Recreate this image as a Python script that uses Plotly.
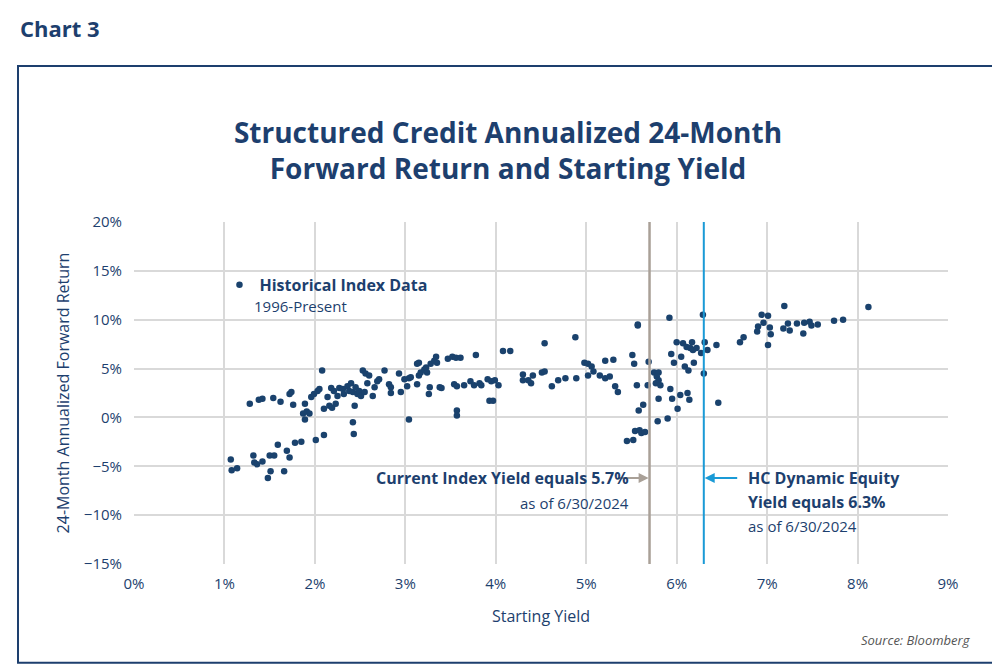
import plotly.graph_objects as go

# starting yield (%) and 24-month annualized forward return (%)
yield_pct = [
    1.07, 1.08, 1.14, 1.28, 1.32, 1.33, 1.36, 1.38, 1.42, 1.42, 1.48, 1.51, 1.50, 1.55, 1.54,
    1.59, 1.62, 1.66, 1.69, 1.72, 1.72, 1.74, 1.76, 1.78, 1.85, 1.89, 1.89, 1.87, 1.91, 1.94,
    1.96, 1.99, 2.01, 2.03, 2.05, 2.10, 2.08, 2.10, 2.14, 2.16, 2.18, 2.19, 2.21, 2.23, 2.25,
    2.27, 2.31, 2.32, 2.36, 2.38, 2.40, 2.42, 2.44, 2.42, 2.43, 2.45, 2.47, 2.49, 2.51, 2.53,
    2.55, 2.56, 2.58, 2.60, 2.64, 2.66, 2.69, 2.71, 2.77, 2.82, 2.84, 2.84, 2.93, 2.95, 2.99,
    3.02, 3.04, 3.04, 3.06, 3.13, 3.13, 3.15, 3.15, 3.17, 3.21, 3.23, 3.24, 3.26, 3.27, 3.28,
    3.32, 3.34, 3.35, 3.38, 3.40, 3.47, 3.52, 3.54, 3.56, 3.57, 3.57, 3.57, 3.61, 3.65, 3.72,
    3.76, 3.78, 3.82, 3.84, 3.91, 3.93, 3.95,
    3.97, 3.99, 4.03, 4.08, 4.16, 4.30, 4.30, 4.36, 4.39, 4.41, 4.51, 4.54, 4.54, 4.62, 4.69,
    4.77, 4.88, 4.89, 4.98, 5.02, 5.02, 5.06, 5.08, 5.15, 5.21, 5.21, 5.26, 5.30, 5.32, 5.35,
    5.51, 5.53, 5.56, 5.57, 5.57, 5.63, 5.58, 5.54, 5.59, 5.61, 5.65, 5.45, 5.52, 5.68, 5.69,
    5.75, 5.80, 5.78, 5.80, 5.77, 5.82, 5.80, 5.79, 5.90, 5.92, 5.94, 5.93, 5.95, 5.97, 6.00,
    6.01, 6.04, 6.05, 6.07, 6.09, 6.12, 6.13, 6.14, 6.11, 6.15, 6.17, 6.18, 6.19, 6.22, 6.27,
    6.29, 6.30, 6.31, 6.34, 6.44, 6.46, 6.70, 6.74, 6.89, 6.90, 6.94, 6.96, 7.01, 7.03, 7.04,
    7.01, 7.19, 7.18, 7.23, 7.25, 7.33, 7.40, 7.41, 7.47, 7.49, 7.56, 7.74, 7.84, 8.12,
]
fwd_return = [
    -4.3, -5.4, -5.2, 1.4, -3.9, -4.6, -4.8, 1.8, 1.9, -4.5, -6.2, -5.5, -3.9, -3.9, 2.0,
    -2.8, 1.6, -5.5, -3.4, -4.1, 2.4, 2.6, 1.3, -2.6, -2.5, 1.4, -0.2, 0.4, 0.6, 0.4,
    2.1, 2.4, -2.3, 2.7, 2.9, -1.8, 4.8, 0.9, 2.1, 1.2, 3.0, 1.0, 2.7, 1.4, 2.2,
    3.0, 2.9, 2.4, 3.2, 2.7, 3.5, 2.6, 1.2, -0.5, -1.7, 3.1, 2.4, 2.7, 2.2, 4.8,
    2.6, 4.5, 3.5, 4.3, 2.2, 3.1, 3.7, 3.9, 4.8, 3.4, 2.5, 3.1, 4.5, 2.6, 3.9,
    3.2, -0.2, 4.0, 4.1, 3.4, 5.5, 5.6, 4.3, 4.6, 4.9, 5.1, 4.6, 2.4, 3.1, 5.5,
    5.8, 6.2, 5.6, 3.1, 3.0, 6.0, 6.2, 3.4, 6.1, 3.2, 0.7, 0.2, 6.1, 3.3, 3.7,
    3.3, 6.4, 3.5, 3.3, 3.9, 1.7, 3.7,
    1.7, 3.8, 3.3, 6.8, 6.8, 4.4, 3.8, 3.8, 3.5, 4.3, 4.6, 4.7, 7.6, 3.2, 3.8,
    4.0, 8.2, 4.0, 5.6, 4.3, 5.5, 5.2, 4.7, 4.3, 5.8, 4.0, 4.2, 5.9, 3.2, 2.6,
    6.4, 5.5, 3.3, 9.5, 9.4, 1.3, 0.7, -1.4, -1.3, -1.6, -1.5, -2.4, -2.3, 3.3, 5.7,
    4.6, 4.6, 4.2, 3.8, 3.5, 3.3, 1.9, -0.4, -0.1, 10.2, 6.5, 2.9, 1.9, 5.6, 7.7,
    0.9, 2.3, 6.2, 7.6, 5.2, 2.5, 4.8, 1.8, 7.2, 7.1, 7.7, 6.9, 5.6, 7.1, 6.6,
    10.5, 4.5, 7.7, 6.9, 7.4, 1.5, 7.7, 8.2, 8.8, 9.3, 10.5, 9.7, 10.4, 9.2, 8.5,
    7.4, 11.4, 9.1, 9.6, 8.9, 9.6, 8.6, 9.7, 9.8, 9.4, 9.5, 9.9, 10.0, 11.3,
]

current_index_yield = 5.7
hc_equity_yield = 6.3
x_ticks = [0, 1, 2, 3, 4, 5, 6, 7, 8, 9]
y_ticks = [-15, -10, -5, 0, 5, 10, 15, 20]

navy = "#1d3f6e"
dot = "#1a426d"

fig = go.Figure()
fig.add_trace(go.Scatter(
    x=[v / 100 for v in yield_pct], y=[v / 100 for v in fwd_return],
    mode="markers", name="<b>Historical Index Data</b>",
    marker=dict(color=dot, size=6.5),
))

fig.add_shape(type="line", x0=current_index_yield / 100, x1=current_index_yield / 100,
              y0=-0.15, y1=0.20, line=dict(color="#a9a097", width=2.5))
fig.add_shape(type="line", x0=hc_equity_yield / 100, x1=hc_equity_yield / 100,
              y0=-0.15, y1=0.20, line=dict(color="#1a9ad6", width=2))

fig.add_annotation(x=current_index_yield / 100 - 0.0001, y=-0.062, ax=-32, ay=0,
                   showarrow=True, arrowhead=2, arrowsize=1, arrowwidth=2, arrowcolor="#a9a097",
                   text="")
fig.add_annotation(x=0.0550, y=-0.062, xanchor="right", showarrow=False,
                   text="<b>Current Index Yield equals 5.7%</b>", font=dict(size=16, color=navy))
fig.add_annotation(x=0.0550, y=-0.088, xanchor="right", showarrow=False,
                   text="as of 6/30/2024", font=dict(size=15, color=navy))

fig.add_annotation(x=hc_equity_yield / 100 + 0.0001, y=-0.062, ax=34, ay=0,
                   showarrow=True, arrowhead=2, arrowsize=1, arrowwidth=2, arrowcolor="#1a9ad6",
                   text="")
fig.add_annotation(x=0.0677, y=-0.062, xanchor="left", showarrow=False,
                   text="<b>HC Dynamic Equity</b>", font=dict(size=16, color=navy))
fig.add_annotation(x=0.0677, y=-0.087, xanchor="left", showarrow=False,
                   text="<b>Yield equals 6.3%</b>", font=dict(size=16, color=navy))
fig.add_annotation(x=0.0677, y=-0.111, xanchor="left", showarrow=False,
                   text="as of 6/30/2024", font=dict(size=15, color=navy))

fig.add_annotation(x=0.0131, y=0.114, xanchor="left", showarrow=False,
                   text="1996-Present", font=dict(size=15, color=navy))

fig.add_annotation(xref="paper", yref="paper", x=-0.1425, y=1.567, xanchor="left", yanchor="middle",
                   showarrow=False, text="<b>Chart 3</b>", font=dict(size=22, color=navy))
fig.add_annotation(xref="paper", yref="paper", x=1.031, y=-0.222, xanchor="right", yanchor="middle",
                   showarrow=False, text="<i>Source: Bloomberg</i>", font=dict(size=13, color="#555"))

fig.add_shape(type="rect", xref="paper", yref="paper", x0=-0.1425, x1=1.061, y0=-0.289, y1=1.456,
              line=dict(color="#1d3f6e", width=2))

fig.update_layout(
    width=1000, height=664,
    margin=dict(l=126, r=60, t=214, b=108, autoexpand=False),
    paper_bgcolor="white", plot_bgcolor="white",
    font=dict(family="Open Sans", color=navy, size=15),
    title=dict(text="<b>Structured Credit Annualized 24-Month<br>Forward Return and Starting Yield</b>",
               x=0.5, xanchor="center", y=0.797, yanchor="middle",
               font=dict(size=28, color=navy)),
    showlegend=True,
    legend=dict(x=0.105, y=0.816, xanchor="left", yanchor="middle", bgcolor="rgba(0,0,0,0)",
                font=dict(size=16, color=navy)),
    xaxis=dict(range=[0, 0.09], tickvals=[v / 100 for v in x_ticks], tickformat=".0%",
               showgrid=True, gridcolor="#d9d9d9", gridwidth=1.5, zeroline=False,
               showline=False, ticks="outside", ticklen=6, tickcolor="white",
               title=dict(text="Starting Yield", font=dict(size=16), standoff=18),
               tickfont=dict(size=15, color=navy)),
    yaxis=dict(range=[-0.15, 0.20], tickvals=[v / 100 for v in y_ticks], tickformat=".0%",
               showgrid=True, gridcolor="#d9d9d9", gridwidth=1.5, zeroline=False,
               showline=False, ticks="outside", ticklen=8, tickcolor="white",
               title=dict(text="24-Month Annualized Forward Return", font=dict(size=16), standoff=10),
               tickfont=dict(size=15, color=navy)),
)

fig.write_html("out.html")
